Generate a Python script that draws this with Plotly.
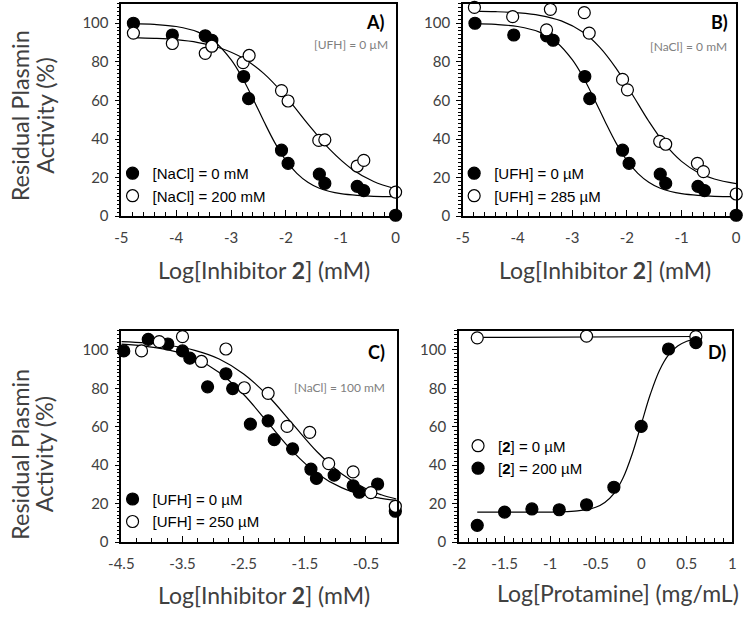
import plotly.graph_objects as go

# ---------------- data ----------------
# Panel A: [NaCl] 0 vs 200 mM, [UFH] = 0
a_fill_x = [-4.78, -4.07, -3.47, -3.35, -2.77, -2.68, -2.08, -1.96, -1.39, -1.29, -0.70, -0.58, 0.0]
a_fill_y = [100, 93.9, 93.5, 91.2, 72.4, 60.9, 34.2, 27.4, 21.8, 17.0, 15.5, 13.3, 0.5]
a_open_x = [-4.78, -4.07, -3.47, -3.35, -2.78, -2.67, -2.08, -1.96, -1.40, -1.29, -0.70, -0.58, 0.0]
a_open_y = [94.9, 89.5, 84.4, 88.1, 79.6, 83.3, 65.1, 59.7, 39.3, 39.6, 26.0, 28.9, 12.5]
a_fill_fit_x = [-4.8, -4.4, -4.0, -3.6, -3.3, -3.0, -2.8, -2.6, -2.4, -2.2, -2.0, -1.8, -1.6, -1.4, -1.2, -1.0, -0.7, -0.4, 0]
a_fill_fit_y = [99.8, 99.4, 98.3, 95.4, 90.4, 81.1, 72.0, 60.9, 49.1, 38.0, 28.9, 22.2, 17.6, 14.6, 12.8, 11.7, 10.8, 10.3, 10.1]
a_open_fit_x = [-4.8, -4.4, -4.0, -3.6, -3.2, -2.8, -2.4, -2.0, -1.6, -1.2, -0.8, -0.4, 0]
a_open_fit_y = [92.6, 92.2, 91.5, 90.0, 87.2, 82.2, 73.9, 62.0, 47.9, 34.6, 24.5, 18.0, 14.2]

# Panel B: [UFH] 0 vs 285 uM, [NaCl] = 0
b_fill_x = [-4.78, -4.07, -3.47, -3.35, -2.77, -2.68, -2.08, -1.96, -1.39, -1.29, -0.70, -0.58, 0.0]
b_fill_y = [100, 93.9, 93.5, 91.2, 72.4, 60.9, 34.2, 27.4, 21.8, 17.0, 15.5, 13.3, 0.5]
b_open_x = [-4.79, -4.09, -3.47, -3.40, -2.78, -2.69, -2.08, -1.99, -1.40, -1.29, -0.71, -0.60, 0.0]
b_open_y = [108.2, 103.4, 96.6, 107.2, 105.5, 94.9, 70.9, 65.5, 38.8, 37.3, 27.4, 23.1, 11.5]
b_fill_fit_x = [-4.8, -4.4, -4.0, -3.6, -3.3, -3.0, -2.8, -2.6, -2.4, -2.2, -2.0, -1.8, -1.6, -1.4, -1.2, -1.0, -0.7, -0.4, 0]
b_fill_fit_y = [99.8, 99.4, 98.3, 95.4, 90.4, 81.1, 72.0, 60.9, 49.1, 38.0, 28.9, 22.2, 17.6, 14.6, 12.8, 11.7, 10.8, 10.3, 10.1]
b_open_fit_x = [-4.8, -4.4, -4.0, -3.6, -3.2, -2.8, -2.5, -2.2, -1.9, -1.6, -1.3, -1.0, -0.7, -0.4, 0]
b_open_fit_y = [106.3, 106.0, 105.4, 104.1, 101.2, 95.3, 87.6, 76.7, 63.1, 49.2, 37.2, 28.4, 22.7, 19.3, 16.9]

# Panel C: [UFH] 0 vs 250 uM, [NaCl] = 100 mM
c_fill_x = [-4.46, -4.06, -3.74, -3.50, -3.38, -3.09, -2.79, -2.68, -2.39, -2.10, -2.00, -1.70,
            -1.40, -1.31, -1.02, -0.71, -0.61, -0.31, -0.02]
c_fill_y = [99.5, 105.5, 103.1, 99.5, 95.7, 80.8, 87.6, 79.9, 61.4, 63.1, 53.3, 48.5,
            37.9, 33.1, 34.8, 29.3, 25.9, 30.2, 16.0]
c_open_x = [-4.17, -3.88, -3.50, -3.19, -2.79, -2.49, -2.10, -1.79, -1.42, -1.11, -0.71, -0.42, -0.02]
c_open_y = [99.5, 104.3, 106.9, 94.0, 100.5, 80.3, 77.4, 60.2, 57.1, 40.8, 36.5, 25.7, 18.6]
c_fit_x = [-4.5, -4.1, -3.7, -3.3, -2.9, -2.5, -2.1, -1.7, -1.3, -0.9, -0.5, -0.25, 0]
c_fill_fit_y = [103.0, 101.9, 99.8, 95.7, 88.3, 76.8, 62.0, 47.2, 35.7, 28.3, 24.2, 22.7, 21.7]
c_open_fit_y = [104.3, 103.6, 102.3, 99.8, 95.3, 87.5, 76.0, 61.5, 47.0, 35.5, 27.7, 24.6, 22.4]

# Panel D: protamine, [2] = 0 vs 200 uM
d_open_x = [-1.8, -0.6, 0.6]
d_open_y = [106.3, 107.2, 106.9]
d_fill_x = [-1.8, -1.5, -1.2, -0.9, -0.6, -0.3, 0.0, 0.3, 0.6]
d_fill_y = [8.7, 15.6, 17.2, 16.8, 19.4, 28.5, 60.2, 100.5, 103.8]
d_fill_fit_x = [-1.8, -1.5, -1.2, -0.9, -0.7, -0.5, -0.4, -0.3, -0.2, -0.1, 0, 0.1, 0.2, 0.3, 0.4, 0.5, 0.6]
d_fill_fit_y = [15.6, 15.6, 15.6, 15.7, 16.2, 18.1, 20.6, 25.2, 33.3, 45.7, 61.3, 76.9, 89.3, 97.4, 102.0, 104.5, 105.8]
d_open_fit_x = [-1.8, 0.6]
d_open_fit_y = [106.5, 107.0]

# tick labels / ranges
ab_ticks = [-5, -4, -3, -2, -1, 0]
c_ticks = [-4.5, -3.5, -2.5, -1.5, -0.5]
d_ticks = [-2, -1.5, -1, -0.5, 0, 0.5, 1]
y_ticks = [0, 20, 40, 60, 80, 100]

# ---------------- layout helpers ----------------
W, H = 750, 628
def px(xp): return xp / W
def py(yp): return 1 - yp / H

TXT = "#404040"
FONT = "Lato"
LEG_FONT = "Liberation Sans"

fig = go.Figure()

def fit(x, y, ax):
    fig.add_trace(go.Scatter(x=x, y=y, mode="lines", line=dict(color="black", width=1.2, shape="spline"),
                             xaxis="x" + ax, yaxis="y" + ax, showlegend=False, hoverinfo="skip"))

def pts(x, y, ax, filled, name, leg):
    fig.add_trace(go.Scatter(x=x, y=y, mode="markers", name=name,
                             marker=dict(size=12, color="black" if filled else "white",
                                         line=dict(color="black", width=1.2)),
                             xaxis="x" + ax, yaxis="y" + ax, legend=leg, cliponaxis=False))

# A
fit(a_fill_fit_x, a_fill_fit_y, "")
fit(a_open_fit_x, a_open_fit_y, "")
pts(a_fill_x, a_fill_y, "", True, "[NaCl] = 0 mM", "legend")
pts(a_open_x, a_open_y, "", False, "[NaCl] = 200 mM", "legend")
# B
fit(b_fill_fit_x, b_fill_fit_y, "2")
fit(b_open_fit_x, b_open_fit_y, "2")
pts(b_fill_x, b_fill_y, "2", True, "[UFH] = 0 µM", "legend2")
pts(b_open_x, b_open_y, "2", False, "[UFH] = 285 µM", "legend2")
# C
fit(c_fit_x, c_fill_fit_y, "3")
fit(c_fit_x, c_open_fit_y, "3")
pts(c_fill_x, c_fill_y, "3", True, "[UFH] = 0 µM", "legend3")
pts(c_open_x, c_open_y, "3", False, "[UFH] = 250 µM", "legend3")
# D
fit(d_open_fit_x, d_open_fit_y, "4")
fit(d_fill_fit_x, d_fill_fit_y, "4")
pts(d_open_x, d_open_y, "4", False, "[<b>2</b>] = 0 µM", "legend4")
pts(d_fill_x, d_fill_y, "4", True, "[<b>2</b>] = 200 µM", "legend4")

def xaxis(dom, rng, ticks, minor, anchor):
    return dict(domain=dom, range=rng, tickvals=ticks, ticktext=[f"{t:g}" for t in ticks],
                showline=True, linecolor="black", linewidth=1.6, mirror=True,
                ticks="inside", ticklen=6, tickwidth=1.2, tickcolor="black",
                minor=dict(ticks="inside", ticklen=4, dtick=minor, tickcolor="black", tickwidth=1),
                showgrid=False, zeroline=False, anchor=anchor, ticklabelstandoff=7,
                tickfont=dict(family=FONT, size=15, color=TXT))

def yaxis(dom, anchor):
    return dict(domain=dom, range=[0, 110], tickvals=y_ticks,
                showline=True, linecolor="black", linewidth=1.6, mirror=True,
                ticks="outside", ticklen=5, tickwidth=1.2, tickcolor="black",
                minor=dict(ticks="outside", ticklen=3, dtick=2, tickcolor="black", tickwidth=1),
                showgrid=False, zeroline=False, anchor=anchor, ticklabelstandoff=3,
                tickfont=dict(family=FONT, size=15, color=TXT))

top_dom = [py(219), py(4)]
bot_dom = [py(549), py(335)]
fig.update_layout(
    xaxis=xaxis([px(111), px(392)], [-5, 0], ab_ticks, 0.2, "y"),
    yaxis=yaxis(top_dom, "x"),
    xaxis2=xaxis([px(461), px(741)], [-5, 0], ab_ticks, 0.2, "y2"),
    yaxis2=yaxis(top_dom, "x2"),
    xaxis3=xaxis([px(111), px(393)], [-4.5, 0], c_ticks, 0.25, "y3"),
    yaxis3=yaxis(bot_dom, "x3"),
    xaxis4=xaxis([px(457), px(737)], [-2, 1], d_ticks, 0.1, "y4"),
    yaxis4=yaxis(bot_dom, "x4"),
)

def leg(xl, yt):
    return dict(x=px(xl), y=py(yt), xanchor="left", yanchor="top", bgcolor="rgba(0,0,0,0)",
                font=dict(family=LEG_FONT, size=15, color="black"), tracegroupgap=0)

fig.update_layout(
    legend=leg(102, 159), legend2=leg(452, 159), legend3=leg(102, 489), legend4=leg(456, 435),
    width=W, height=H, margin=dict(l=0, r=0, t=0, b=0),
    plot_bgcolor="white", paper_bgcolor="white", showlegend=True,
)

ann = []
def text(x, y, s, size, color=TXT, angle=0, xanchor="center", bold=False, family=FONT):
    ann.append(dict(x=px(x), y=py(y), xref="paper", yref="paper", text=s, showarrow=False,
                    textangle=angle, xanchor=xanchor, yanchor="middle",
                    font=dict(family=family, size=size, color=color)))

# y titles
for yc in (117, 460):
    text(7, yc, "Residual Plasmin", 23.5, angle=-90)
    text(32, yc, "Activity (%)", 23.5, angle=-90)
# x titles
text(257, 273, "Log[Inhibitor <b>2</b>] (mM)", 23)
text(607, 273, "Log[Inhibitor <b>2</b>] (mM)", 23)
text(257, 603, "Log[Inhibitor <b>2</b>] (mM)", 23)
text(620, 601, "Log[Protamine] (mg/mL)", 23)
# panel labels
text(383, 22, "<b>A)</b>", 18, color="black", xanchor="right")
text(735, 22, "<b>B)</b>", 18, color="black", xanchor="right")
text(383, 357, "<b>C)</b>", 18, color="black", xanchor="right")
text(733, 357, "<b>D)</b>", 18, color="black", xanchor="right")
# conditions
text(386, 45, "[UFH] = 0 µM", 12, color="#808080", xanchor="right")
text(734, 47, "[NaCl] = 0 mM", 12, color="#808080", xanchor="right")
text(383, 392, "[NaCl] = 100 mM", 12, color="#808080", xanchor="right")
fig.update_layout(annotations=ann)

fig.write_html("out.html", config={"displayModeBar": False},
               post_script="document.body.style.margin='0px';")
